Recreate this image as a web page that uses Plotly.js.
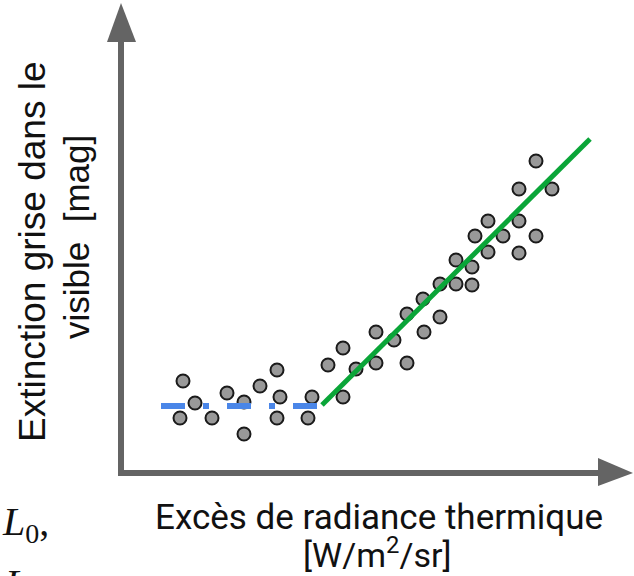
<!DOCTYPE html>
<html>
<head>
<meta charset="utf-8">
<script src="https://cdn.plot.ly/plotly-3.0.1.min.js"></script>
<style>
html,body{margin:0;padding:0;overflow:hidden;background:#fff;}
#chart{width:634px;height:576px;}
</style>
</head>
<body>
<div id="chart"></div>
<script>
const obsX = [183,195,180,212,227,244,244,260,277,280,277,312,308,
  328,343,343,356,376,376,394,407,407,424,423,440,440,456,456,472,472,475,488,488,503,519,519,536,519,552,536];
const obsY = [195,173,158,158,183,174,142,190,206,179,158,179,158,
  211,228,179,207,213,244,236,213,262,244,277,259,292,292,316,309,291,340,355,324,340,355,323,340,387,387,415];

// Flat (blue dashed) plateau
const flatX = [161,318];
const flatY = [170,170];

// Rising (green) fit
const fitX = [322,590];
const fitY = [171,437];

const axisColor = '#646464';

const traces = [
  {x: obsX, y: obsY, mode:'markers', type:'scatter',
   marker:{size:13, color:'#999999', line:{color:'#1a1a1a', width:2}}, hoverinfo:'skip'},
  {x: flatX, y: flatY, mode:'lines', type:'scatter',
   line:{color:'#4a86e8', width:6, dash:'24px,18px,6px,18px'}, hoverinfo:'skip'},
  {x: fitX, y: fitY, mode:'lines', type:'scatter',
   line:{color:'#0aa538', width:5}, hoverinfo:'skip'}
];

const layout = {
  width:634, height:576,
  margin:{l:0,r:0,t:0,b:0},
  paper_bgcolor:'#ffffff', plot_bgcolor:'#ffffff',
  showlegend:false,
  xaxis:{range:[0,634], visible:false, fixedrange:true},
  yaxis:{range:[0,576], visible:false, fixedrange:true},
  shapes:[
    {type:'line', xref:'x', yref:'y', x0:121, x1:121, y0:102, y1:536, line:{color:axisColor, width:6}, layer:'below'},
    {type:'path', xref:'x', yref:'y', path:'M107,534 L136,534 L121,573 Z', fillcolor:axisColor, line:{width:0}, layer:'below'},
    {type:'line', xref:'x', yref:'y', x0:118, x1:600, y0:103, y1:103, line:{color:axisColor, width:6}, layer:'below'},
    {type:'path', xref:'x', yref:'y', path:'M598,118 L598,90 L633,103 Z', fillcolor:axisColor, line:{width:0}, layer:'below'}
  ],
  annotations:[
    {text:'Extinction grise dans le', xref:'x', yref:'y', x:32, y:324, textangle:-90, showarrow:false,
     xanchor:'center', yanchor:'middle', font:{family:'Liberation Sans, Arial, sans-serif', size:37, color:'#111'}},
    {text:'visible  [mag]', xref:'x', yref:'y', x:76, y:339, textangle:-90, showarrow:false,
     xanchor:'center', yanchor:'middle', font:{family:'Liberation Sans, Arial, sans-serif', size:35, color:'#111'}},
    {text:'Excès de radiance thermique', xref:'x', yref:'y', x:379, y:59, showarrow:false,
     xanchor:'center', yanchor:'middle', font:{family:'Roboto, sans-serif', size:35, color:'#111'}},
    {text:'[W/m<sup>2</sup>/sr]', xref:'x', yref:'y', x:377, y:23, showarrow:false,
     xanchor:'center', yanchor:'middle', font:{family:'Roboto, sans-serif', size:34, color:'#111'}},
    {text:'<i>L</i><sub>0</sub>,', xref:'x', yref:'y', x:0, y:52, showarrow:false,
     xanchor:'left', yanchor:'middle', font:{family:'Liberation Serif, DejaVu Serif, serif', size:40, color:'#111'}},
    {text:'<i>L</i>', xref:'paper', yref:'paper', x:0.003, y:0.03, showarrow:false,
     xanchor:'left', yanchor:'top', font:{family:'Liberation Serif, DejaVu Serif, serif', size:40, color:'#111'}}
  ]
};

Plotly.newPlot('chart', traces, layout, {displayModeBar:false, staticPlot:true});
</script>
</body>
</html>
